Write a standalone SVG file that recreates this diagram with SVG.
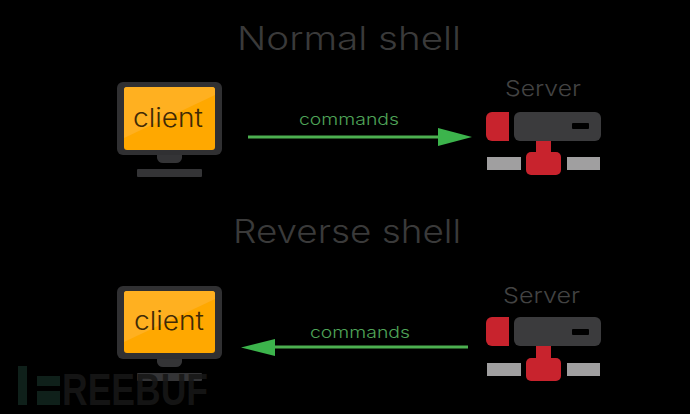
<svg xmlns="http://www.w3.org/2000/svg" width="690" height="414" viewBox="0 0 690 414">
<style>
.t{font-family:"Inter","Liberation Sans",sans-serif;font-weight:300}
.title{fill:#3a3a3a;font-size:32px}
.srv{fill:#434343;font-size:22px}
.cmd{fill:#4fa458;font-size:16px}
.cl{fill:#3f2a06;font-size:26px}
.frame{fill:#303032}
.base{fill:#343436}
.screen{fill:#ffa800}
.gloss{fill:#ffb020}
.red{fill:#c8232d}
.gray{fill:#a09fa0}
.dark{fill:#3b3b3d}
.slot{fill:#000}
.line{stroke:#4caf50;stroke-width:3;fill:none}
.head{fill:#3cb44c}
.wm{fill:#171717;font-family:"Liberation Sans",sans-serif;font-weight:700;font-size:44px}
.wmg{fill:#0f201a}
</style>
<rect width="690" height="414" fill="#000"/>
<text class="t title" x="237" y="50" textLength="224" lengthAdjust="spacingAndGlyphs">Normal shell</text>
<text class="t title" x="233" y="243" textLength="228" lengthAdjust="spacingAndGlyphs">Reverse shell</text>
<g id="client-top">
<rect class="frame" x="117" y="82" width="105" height="73" rx="6"/>
<rect class="screen" x="124" y="87" width="91" height="63" rx="3"/>
<path class="gloss" d="M127 87H212a3 3 0 0 1 3 3V95L124 138V90a3 3 0 0 1 3-3Z"/>
<path class="base" d="M157 155H182V158Q181 163 176 163H163Q158 163 157 158Z"/>
<rect class="base" x="137" y="169" width="65" height="8" rx="1"/>
<text class="t cl" x="133" y="127" textLength="70" lengthAdjust="spacingAndGlyphs">client</text>
</g>
<g id="server-top">
<text class="t srv" x="505" y="96" textLength="76" lengthAdjust="spacingAndGlyphs">Server</text>
<path class="red" d="M509 112V141H492a6 6 0 0 1-6-6V118a6 6 0 0 1 6-6Z"/>
<rect class="dark" x="514" y="112" width="87" height="29" rx="6"/>
<rect class="slot" x="572" y="123" width="17" height="6" rx="1"/>
<rect class="red" x="536" y="141" width="15" height="14"/>
<rect class="red" x="526" y="152" width="35" height="23" rx="5"/>
<rect class="gray" x="487" y="157" width="34" height="13"/>
<rect class="gray" x="567" y="157" width="33" height="13"/>
</g>
<g id="client-bottom">
<rect class="frame" x="117" y="286" width="105" height="73" rx="6"/>
<rect class="screen" x="124" y="291" width="91" height="62" rx="3"/>
<path class="gloss" d="M127 291H212a3 3 0 0 1 3 3V299L124 342V294a3 3 0 0 1 3-3Z"/>
<path class="base" d="M157 359H182V362Q181 367 176 367H163Q158 367 157 362Z"/>
<rect class="base" x="137" y="373" width="65" height="8" rx="1"/>
<text class="t cl" x="134" y="330" textLength="70" lengthAdjust="spacingAndGlyphs">client</text>
</g>
<g id="server-bottom">
<text class="t srv" x="503" y="303" textLength="77" lengthAdjust="spacingAndGlyphs">Server</text>
<path class="red" d="M509 317V346H492a6 6 0 0 1-6-6V323a6 6 0 0 1 6-6Z"/>
<rect class="dark" x="514" y="317" width="87" height="29" rx="6"/>
<rect class="slot" x="572" y="329" width="17" height="6" rx="1"/>
<rect class="red" x="536" y="346" width="15" height="14"/>
<rect class="red" x="526" y="358" width="35" height="23" rx="5"/>
<rect class="gray" x="487" y="363" width="34" height="13"/>
<rect class="gray" x="567" y="363" width="33" height="13"/>
</g>
<g id="connectors">
<path class="line" d="M248 137H440"/>
<path class="head" d="M438 128L472 137 438 146Z"/>
<text class="t cmd" x="299" y="125" textLength="100" lengthAdjust="spacingAndGlyphs">commands</text>
<path class="line" d="M468 347H272"/>
<path class="head" d="M275 339L241 347.500 275 356Z"/>
<text class="t cmd" x="310" y="338" textLength="100" lengthAdjust="spacingAndGlyphs">commands</text>
</g>
<g id="watermark">
<rect class="wmg" x="18" y="366" width="9" height="39"/>
<rect class="wmg" x="37" y="376" width="23" height="10"/>
<rect class="wmg" x="37" y="391" width="23" height="14"/>
<text class="wm" x="62" y="405" textLength="146" lengthAdjust="spacingAndGlyphs" fill-opacity=".9">REEBUF</text>
</g>
</svg>
